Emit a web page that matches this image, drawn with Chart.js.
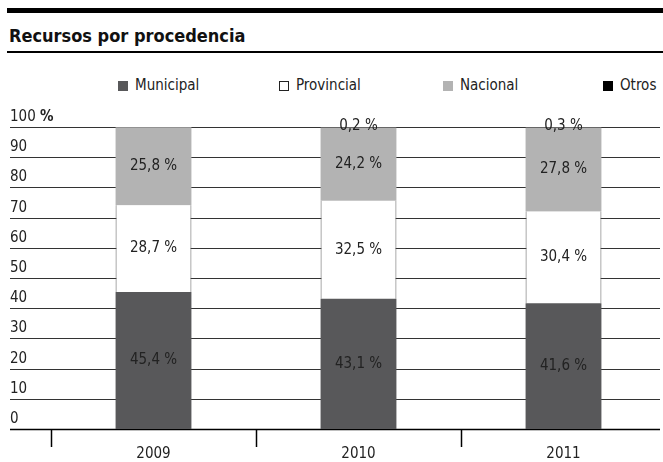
<!DOCTYPE html>
<html>
<head>
<meta charset="utf-8">
<script src="https://cdn.jsdelivr.net/npm/chart.js@4.4.1/dist/chart.umd.min.js"></script>
<style>
  html, body { margin: 0; padding: 0; background: #fff; overflow: hidden; }
  body { width: 663px; height: 462px; position: relative; font-family: "DejaVu Sans Condensed", "Roboto", sans-serif; }
  .topbar { position: absolute; left: 7px; right: 0; top: 8px; height: 5px; background: #000; }
  .title { position: absolute; left: 9px; top: 25px; font-size: 18px; font-weight: bold; color: #111; }
  .rule { position: absolute; left: 7px; right: 0; top: 51px; height: 2px; background: #000; }
  .legend span { position: absolute; top: 76px; font-size: 15px; color: #222; }
  .legend i { position: absolute; top: 81px; width: 10px; height: 10px; box-sizing: border-box; }
  .wrap { position: absolute; left: 0; top: 0; width: 672px; height: 462px; }
</style>
</head>
<body>
<div class="topbar"></div>
<div class="title">Recursos por procedencia</div>
<div class="rule"></div>
<div class="legend" id="legend"></div>
<div class="wrap"><canvas id="chart" width="672" height="462"></canvas></div>
<script>
"use strict";

// Data
const YEARS = ["2009", "2010", "2011"];
const MUNICIPAL = [45.4, 43.1, 41.6];
const PROVINCIAL = [28.7, 32.5, 30.4];
const NACIONAL = [25.8, 24.2, 27.8];
const OTROS = [null, 0.2, 0.3];
const Y_TICKS = [0, 10, 20, 30, 40, 50, 60, 70, 80, 90, 100];

const SERIES = [
  { label: "Municipal",  data: MUNICIPAL,  color: "#58585a", border: "#58585a", lx: 118 },
  { label: "Provincial", data: PROVINCIAL, color: "#ffffff", border: "#555555", lx: 279 },
  { label: "Nacional",   data: NACIONAL,   color: "#b3b3b3", border: "#b3b3b3", lx: 443 },
  { label: "Otros",      data: OTROS,      color: "#000000", border: "#000000", lx: 603 },
];

const FONT = '"DejaVu Sans Condensed", "Roboto", sans-serif';
const fmt = (v) => v.toFixed(1).replace(".", ",") + " %";

// HTML legend at fixed positions
document.getElementById("legend").innerHTML = SERIES.map(s => `
  <i style="left:${s.lx}px;background:${s.color};border:1px solid ${s.label === "Provincial" ? "#222" : s.color}"></i>
  <span style="left:${s.lx + 17}px">${s.label}</span>`).join("");

// grid lines, y labels, x ticks / labels and value labels
const decor = {
  id: "decor",
  beforeDatasetsDraw(chart) {
    const { ctx, scales: { y } } = chart;
    ctx.save();
    Y_TICKS.forEach(t => {
      const py = Math.round(y.getPixelForValue(t)) + 0.5;
      ctx.strokeStyle = t === 0 ? "#000" : "#333";
      ctx.lineWidth = t === 0 ? 1.5 : 1.2;
      ctx.beginPath();
      ctx.moveTo(10, py);
      ctx.lineTo(660, py);
      ctx.stroke();
      ctx.fillStyle = "#222";
      ctx.font = "15px " + FONT;
      ctx.textBaseline = "bottom";
      ctx.textAlign = "left";
      if (t === 100) {
        ctx.fillText("100 ", 10, py - 3);
        const w = ctx.measureText("100 ").width;
        ctx.font = "bold 15px " + FONT;
        ctx.fillText("%", 10 + w, py - 3);
      } else {
        ctx.fillText(String(t), 10, py - 3);
      }
    });
    ctx.restore();
  },
  afterDatasetsDraw(chart) {
    const { ctx, scales: { x, y } } = chart;
    ctx.save();
    const bottom = y.getPixelForValue(0);
    const step = x.getPixelForValue(1) - x.getPixelForValue(0);
    ctx.strokeStyle = "#000";
    ctx.lineWidth = 1.5;
    ctx.fillStyle = "#222";
    ctx.font = "15px " + FONT;
    ctx.textAlign = "center";
    ctx.textBaseline = "middle";
    YEARS.forEach((yr, i) => {
      const cx = x.getPixelForValue(i);
      const px = Math.round(cx - step / 2) + 0.5;
      ctx.beginPath();
      ctx.moveTo(px, bottom);
      ctx.lineTo(px, bottom + 18);
      ctx.stroke();
      ctx.fillText(yr, cx, bottom + 25);
    });
    // value labels in the middle of each segment
    chart.data.datasets.forEach((ds, di) => {
      const meta = chart.getDatasetMeta(di);
      meta.data.forEach((bar, i) => {
        const v = ds.data[i];
        if (v == null) return;
        const mid = SERIES[di].label === "Otros" ? bar.y + 1 : (bar.y + bar.base) / 2;
        ctx.fillText(fmt(v), bar.x, mid);
      });
    });
    ctx.restore();
  },
};

new Chart(document.getElementById("chart"), {
  type: "bar",
  data: {
    labels: YEARS,
    datasets: SERIES.map(s => ({
      label: s.label,
      data: s.data,
      backgroundColor: s.color,
      borderColor: s.border,
      borderWidth: s.label === "Provincial" ? { left: 1, right: 1, top: 0, bottom: 0 } : 0,
      borderSkipped: false,
      minBarLength: s.label === "Otros" ? 2 : 0,
      barPercentage: 0.74,
      categoryPercentage: 0.5,
    })),
  },
  plugins: [decor],
  options: {
    responsive: false,
    animation: false,
    events: [],
    layout: { padding: { left: 51, right: 6, top: 127, bottom: 33 } },
    plugins: { legend: { display: false }, tooltip: { enabled: false } },
    scales: {
      x: { stacked: true, display: false },
      y: { stacked: true, display: false, min: 0, max: 100 },
    },
  },
});
</script>
</body>
</html>
